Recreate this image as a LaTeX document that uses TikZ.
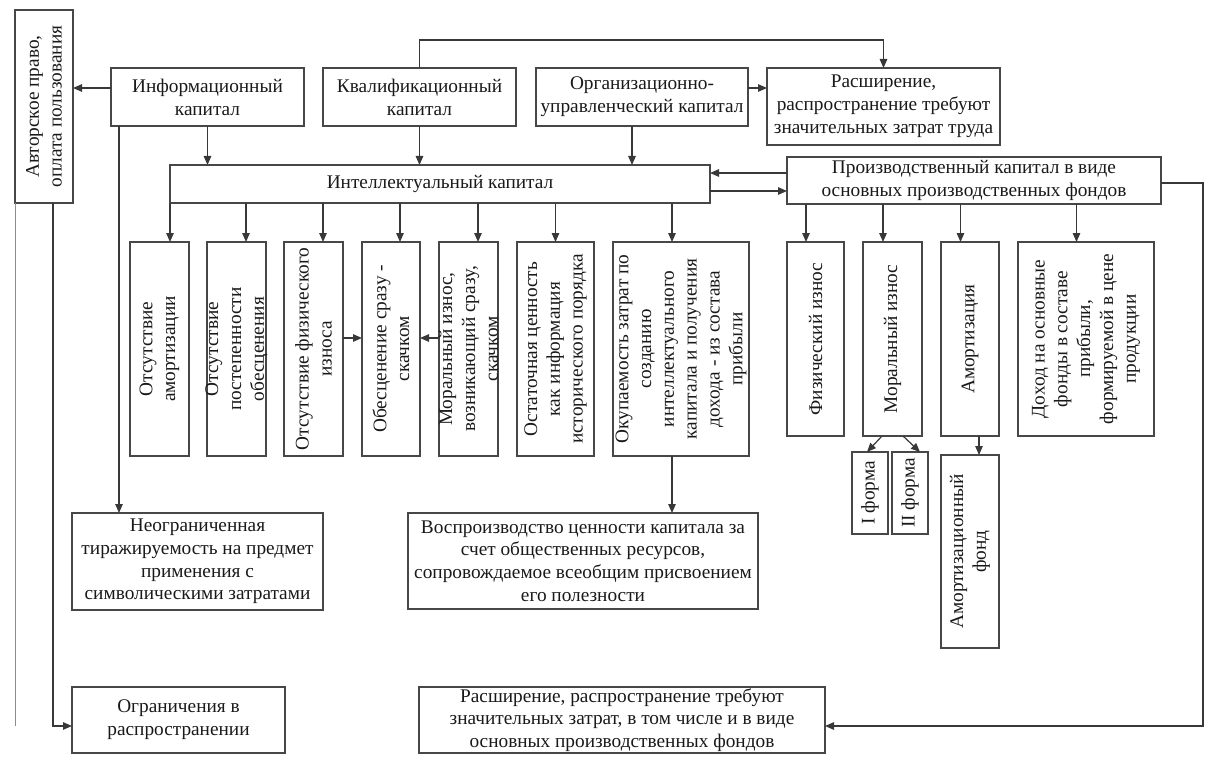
\documentclass[tikz,border=0pt]{standalone}
\usepackage{fontspec}
\setmainfont{Liberation Serif}
\usetikzlibrary{arrows.meta}
\newcommand\fs{\fontsize{19.3}{22.8}\selectfont}
\tikzset{
  box/.style={draw=black!72, line width=1.2pt, inner sep=0pt, outer sep=0pt},
  txt/.style={align=center, inner sep=0pt, font=\fs, text=black!90},
  vtxt/.style={txt, rotate=90},
  arr/.style={draw=black!78, line width=1.2pt, -{Triangle[length=9pt,width=7.5pt]}},
  ln/.style={draw=black!78, line width=1.2pt},
}
\newcommand\hbx[6]{%
  \node[box, minimum width=#4pt, minimum height=#5pt] (#1) at (#2,#3) {};
  \node[txt] (#1-t) at (#1) {#6};}
\newcommand\vbx[6]{%
  \node[box, minimum width=#4pt, minimum height=#5pt] (#1) at (#2,#3) {};
  \node[vtxt] (#1-t) at (#1) {#6};}
\begin{document}
\begin{tikzpicture}[x=1pt,y=-1pt]
\useasboundingbox (0,0) rectangle (1224,773);
% boxes
\vbx{avt}{44}{106.5}{58}{193}{Авторское право,\\оплата пользования}
\hbx{inf}{207.5}{97}{193}{58}{Информационный\\капитал}
\hbx{kval}{419.5}{97}{193}{58}{Квалификационный\\капитал}
\hbx{org}{642}{97}{212}{58}{Организационно-\\управленческий капитал}
\hbx{ras1}{883.5}{106.5}{233}{77}{Расширение,\\распространение требуют\\значительных затрат труда}
\hbx{int}{440}{184}{540}{38}{Интеллектуальный капитал}
\hbx{proizv}{974}{180.5}{374}{47}{Производственный капитал в виде\\основных производственных фондов}
\vbx{v1}{159.5}{349}{59}{214}{Отсутствие\\амортизации}
\vbx{v2}{236.5}{349}{59}{214}{Отсутствие\\постепенности\\обесценения}
\vbx{v3}{313.5}{349}{59}{214}{Отсутствие физического\\износа}
\vbx{v4}{391}{349}{58}{214}{Обесценение сразу -\\скачком}
\vbx{v5}{468.5}{349}{59}{214}{Моральный износ,\\возникающий сразу,\\скачком}
\vbx{v6}{555.5}{349}{77}{214}{Остаточная ценность\\как информация\\исторического порядка}
\vbx{v7}{681}{349}{136}{214}{Окупаемость затрат по\\созданию\\интеллектуального\\капитала и получения\\дохода - из состава\\прибыли}
\vbx{r1}{815.5}{339}{57}{194}{Физический износ}
\vbx{r2}{892.5}{339}{59}{194}{Моральный износ}
\vbx{r3}{970}{339}{58}{194}{Амортизация}
\vbx{r4}{1086}{339}{136}{194}{Доход на основные\\фонды в составе\\прибыли,\\формируемой в цене\\продукции}
\vbx{f1}{870}{493}{36}{82}{I форма}
\vbx{f2}{910}{493}{36}{82}{II форма}
\vbx{af}{970}{551.5}{58}{193}{Амортизационный\\фонд}
\hbx{neogr}{197.5}{561.5}{251}{97}{Неограниченная\\тиражируемость на предмет\\применения с\\символическими затратами}
\hbx{vospr}{583}{561}{350}{96}{Воспроизводство ценности капитала за\\счет общественных ресурсов,\\сопровождаемое всеобщим присвоением\\его полезности}
\hbx{ogr}{178.5}{720}{213}{66}{Ограничения в\\распространении}
\hbx{ras2}{622}{720}{406}{66}{Расширение, распространение требуют\\значительных затрат, в том числе и в виде\\основных производственных фондов}
% connectors
\coordinate (p1) at ([yshift=9pt]inf.west);
\draw[arr] (p1) -- (p1 -| avt.east);
\draw[arr] (kval.north) -- ++(0,-28) -| (ras1.north);
\coordinate (p2) at ([yshift=9pt]org.east);
\draw[arr] (p2) -- (p2 -| ras1.west);
\draw[arr] (inf.south) -- (inf.south |- int.north);
\draw[arr] (kval.south) -- (kval.south |- int.north);
\coordinate (p3) at ([xshift=-10pt]org.south);
\draw[arr] (p3) -- (p3 |- int.north);
\coordinate (p4) at ([xshift=8pt]inf.south west);
\draw[arr] (p4) -- (p4 |- neogr.north);
\coordinate (p5) at ([yshift=11pt]int.east);
\draw[arr] (p5 -| proizv.west) -- (p5);
\coordinate (p6) at ([yshift=-7pt]int.east);
\draw[arr] (p6) -- (p6 -| proizv.west);
\foreach \n/\dx in {v1/10.5, v2/9.5, v3/9.5, v4/9, v5/9.5, v6/0, v7/-9} {
  \coordinate (t) at ([xshift=\dx pt]\n.north);
  \draw[arr] (t |- int.south) -- (t);
}
\coordinate (p7) at ([yshift=11pt]v3.east);
\draw[arr] (p7) -- (p7 -| v4.west);
\coordinate (p8) at ([yshift=11pt]v5.west);
\draw[arr] (p8) -- (p8 -| v4.east);
\coordinate (p9) at ([xshift=-9pt]v7.south);
\draw[arr] (p9) -- (p9 |- vospr.north);
\foreach \n in {r1,r2,r3,r4} {
  \coordinate (t) at ([xshift=-9.5pt]\n.north);
  \draw[arr] (t |- proizv.south) -- (t);
}
\draw[arr] ([xshift=-10.5pt]r2.south) -- ([xshift=-3pt]f1.north);
\draw[arr] ([xshift=10.5pt]r2.south) -- ([xshift=10pt]f2.north);
\coordinate (p10) at ([xshift=9pt]r3.south);
\draw[arr] (p10) -- (p10 |- af.north);
\coordinate (p11) at ([yshift=-2.5pt]proizv.east);
\coordinate (p12) at ([yshift=-6pt]ras2.east);
\draw[arr] (p11) -- ++(42,0) |- (p12);
\coordinate (p13) at ([xshift=9pt]avt.south);
\coordinate (p14) at ([yshift=-6pt]ogr.west);
\draw[arr] (p13) |- (p14);
\draw[draw=black!45, line width=1pt] (avt.south west) -- ++(0,523);
\end{tikzpicture}
\end{document}
